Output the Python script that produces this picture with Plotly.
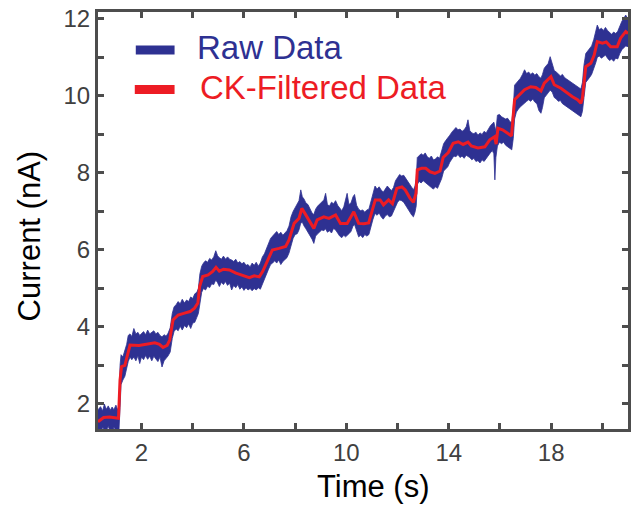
import plotly.graph_objects as go

# Filtered current trace (time in s, current in nA)
filt_t = [0.30, 0.52, 0.75, 0.95, 1.10, 1.16, 1.22, 1.35, 1.48, 1.55, 1.90, 2.20, 2.52, 2.70,
          2.84, 3.00, 3.10, 3.23, 3.43, 3.68, 3.90, 4.07, 4.20, 4.27, 4.39, 4.60, 4.78, 4.91,
          5.04, 5.20, 5.43, 5.69, 6.01, 6.21, 6.40, 6.60, 6.73, 6.92, 7.11, 7.37, 7.63, 7.76,
          7.96, 8.15, 8.26, 8.38, 8.54, 8.73, 8.86, 9.12, 9.32, 9.58, 9.77, 10.03, 10.29, 10.48,
          10.68, 10.87, 11.00, 11.13, 11.32, 11.45, 11.65, 11.80, 11.97, 12.17, 12.30, 12.49,
          12.62, 12.72, 12.77, 12.94, 13.10, 13.27, 13.46, 13.66, 13.78, 13.98, 14.17, 14.37,
          14.56, 14.75, 14.88, 15.14, 15.41, 15.60, 15.79, 15.85, 15.92, 16.10, 16.30, 16.45,
          16.57, 16.70, 16.96, 17.20, 17.40, 17.60, 17.73, 17.99, 18.12, 18.38, 18.64, 18.83,
          19.03, 19.16, 19.22, 19.35, 19.55, 19.68, 19.80, 20.00, 20.15, 20.32, 20.58, 20.71,
          20.91, 21.00]
filt_y = [1.54, 1.65, 1.66, 1.64, 1.63, 2.62, 2.97, 3.00, 3.40, 3.53, 3.52, 3.55, 3.59, 3.55,
          3.47, 3.52, 3.66, 4.18, 4.31, 4.36, 4.40, 4.49, 4.62, 5.05, 5.31, 5.35, 5.44, 5.55,
          5.45, 5.50, 5.48, 5.40, 5.33, 5.28, 5.33, 5.30, 5.44, 5.74, 6.00, 6.04, 6.09, 6.26,
          6.69, 6.82, 7.08, 6.95, 6.78, 6.56, 6.78, 6.86, 6.82, 6.91, 6.69, 6.69, 6.99, 6.69,
          6.68, 6.70, 7.00, 7.30, 7.30, 7.17, 7.30, 7.20, 7.60, 7.64, 7.56, 7.34,
          7.24, 7.47, 8.08, 8.12, 8.12, 8.03, 7.99, 8.05, 8.40, 8.53, 8.77, 8.81,
          8.74, 8.80, 8.70, 8.65, 8.68, 8.86, 8.94, 8.75, 9.16, 9.12, 9.03, 8.96,
          9.90, 9.98, 10.16, 10.24, 10.22, 10.13, 10.33, 10.50, 10.29, 10.20, 10.07, 9.98,
          9.90, 9.81, 9.95, 10.76, 10.85, 11.06, 11.41, 11.37, 11.40, 11.28, 11.28, 11.50,
          11.67, 11.62]

# Raw current record: lower and upper extent of the noise at each time
raw_t = [0.30, 0.40, 0.48, 0.55, 0.62, 0.70, 0.78, 0.85, 0.92, 1.00,
         1.06, 1.12, 1.16, 1.20, 1.27, 1.35, 1.42, 1.48, 1.55, 1.62,
         1.70, 1.78, 1.86, 1.93, 2.00, 2.08, 2.16, 2.24, 2.32, 2.40,
         2.48, 2.56, 2.64, 2.72, 2.80, 2.88, 2.96, 3.04, 3.12, 3.20,
         3.27, 3.35, 3.43, 3.51, 3.59, 3.68, 3.76, 3.84, 3.92, 4.00,
         4.08, 4.16, 4.22, 4.28, 4.35, 4.42, 4.50, 4.58, 4.66, 4.74,
         4.82, 4.90, 4.97, 5.04, 5.12, 5.20, 5.28, 5.36, 5.44, 5.52,
         5.60, 5.68, 5.76, 5.84, 5.92, 6.00, 6.08, 6.16, 6.24, 6.32,
         6.40, 6.48, 6.56, 6.64, 6.72, 6.80, 6.88, 6.96, 7.04, 7.12,
         7.20, 7.28, 7.36, 7.44, 7.52, 7.60, 7.68, 7.76, 7.84, 7.92,
         8.00, 8.08, 8.15, 8.22, 8.28, 8.35, 8.42, 8.50, 8.58, 8.66,
         8.73, 8.80, 8.88, 8.96, 9.04, 9.12, 9.19, 9.26, 9.34, 9.42,
         9.50, 9.58, 9.66, 9.74, 9.82, 9.90, 9.97, 10.03, 10.10, 10.18,
         10.26, 10.32, 10.40, 10.48, 10.56, 10.64, 10.72, 10.80, 10.88, 10.96,
         11.04, 11.12, 11.20, 11.28, 11.36, 11.44, 11.52, 11.60, 11.68, 11.76,
         11.84, 11.92, 12.00, 12.08, 12.16, 12.24, 12.32, 12.40, 12.48, 12.56,
         12.62, 12.68, 12.73, 12.77, 12.84, 12.92, 13.00, 13.08, 13.16, 13.24,
         13.32, 13.40, 13.48, 13.56, 13.64, 13.72, 13.80, 13.88, 13.96, 14.04,
         14.12, 14.20, 14.28, 14.36, 14.44, 14.52, 14.60, 14.68, 14.75, 14.82,
         14.90, 14.98, 15.06, 15.14, 15.22, 15.30, 15.38, 15.46, 15.54, 15.62,
         15.70, 15.76, 15.80, 15.84, 15.90, 15.98, 16.06, 16.14, 16.22, 16.30,
         16.38, 16.46, 16.52, 16.57, 16.64, 16.72, 16.80, 16.88, 16.96, 17.04,
         17.12, 17.20, 17.28, 17.36, 17.44, 17.52, 17.60, 17.66, 17.73, 17.80,
         17.88, 17.96, 18.04, 18.12, 18.20, 18.28, 18.36, 18.44, 18.52, 18.60,
         18.68, 18.76, 18.84, 18.92, 19.00, 19.08, 19.16, 19.22, 19.28, 19.35,
         19.42, 19.50, 19.58, 19.66, 19.74, 19.80, 19.88, 19.96, 20.04, 20.12,
         20.20, 20.28, 20.36, 20.44, 20.52, 20.60, 20.68, 20.76, 20.84, 20.91,
         21.00]
raw_lo = [1.25, 1.20, 1.40, 1.33, 1.30, 1.42, 1.28, 1.20, 1.40, 1.32,
          1.25, 1.33, 1.90, 2.50, 2.62, 2.72, 2.95, 3.10, 3.22, 3.15,
          3.22, 3.12, 3.25, 3.05, 3.22, 3.15, 3.26, 3.16, 3.24, 3.12,
          3.24, 3.18, 3.10, 3.22, 2.96, 3.12, 3.18, 3.25, 3.35, 3.70,
          3.88, 3.95, 3.90, 4.02, 3.92, 4.04, 3.98, 4.08, 3.96, 4.10,
          4.12, 4.25, 4.35, 4.65, 4.90, 5.00, 4.96, 5.06, 5.02, 5.12,
          5.10, 5.22, 5.15, 5.05, 5.16, 5.10, 5.18, 5.08, 5.14, 4.96,
          5.08, 5.02, 5.10, 4.98, 5.04, 4.95, 5.02, 4.96, 5.00, 4.94,
          5.00, 4.96, 5.02, 4.98, 5.10, 5.22, 5.38, 5.50, 5.62, 5.66,
          5.72, 5.66, 5.74, 5.62, 5.70, 5.76, 5.80, 5.92, 6.10, 6.30,
          6.40, 6.42, 6.52, 6.70, 6.72, 6.62, 6.55, 6.45, 6.38, 6.28,
          6.17, 6.36, 6.42, 6.48, 6.52, 6.50, 6.55, 6.46, 6.50, 6.44,
          6.56, 6.52, 6.44, 6.36, 6.32, 6.38, 6.34, 6.38, 6.42, 6.48,
          6.62, 6.66, 6.48, 6.34, 6.38, 6.32, 6.40, 6.36, 6.40, 6.58,
          6.80, 6.95, 6.90, 6.96, 6.86, 6.80, 6.88, 6.92, 6.86, 6.88,
          6.96, 7.12, 7.24, 7.30, 7.28, 7.24, 7.16, 7.06, 6.98, 6.90,
          6.86, 6.98, 7.15, 7.70, 7.78, 7.74, 7.80, 7.76, 7.70, 7.66,
          7.62, 7.58, 7.64, 7.60, 7.70, 7.85, 8.05, 8.10, 8.16, 8.28,
          8.36, 8.44, 8.42, 8.48, 8.40, 8.44, 8.38, 8.46, 8.44, 8.40,
          8.34, 8.38, 8.30, 8.32, 8.26, 8.34, 8.30, 8.36, 8.44, 8.52,
          8.58, 8.50, 7.82, 8.40, 8.70, 8.80, 8.76, 8.80, 8.72, 8.68,
          8.64, 8.60, 8.90, 9.40, 9.58, 9.66, 9.72, 9.78, 9.82, 9.86,
          9.90, 9.86, 9.92, 9.84, 9.80, 9.62, 9.55, 9.70, 9.95, 10.00,
          10.08, 10.15, 10.10, 9.96, 9.92, 9.86, 9.88, 9.80, 9.76, 9.72,
          9.68, 9.64, 9.60, 9.58, 9.54, 9.50, 9.46, 9.60, 9.95, 10.35,
          10.42, 10.48, 10.56, 10.68, 10.86, 11.00, 11.04, 10.98, 11.02, 11.06,
          10.98, 10.92, 10.96, 10.90, 10.98, 10.96, 11.10, 11.20, 11.26, 11.30,
          11.28]
raw_hi = [1.85, 1.93, 1.82, 2.00, 1.86, 1.95, 1.84, 1.92, 1.85, 1.97,
          1.86, 1.90, 3.00, 3.28, 3.22, 3.38, 3.55, 3.78, 3.82, 3.75,
          3.96, 3.82, 3.86, 3.78, 3.84, 3.88, 3.80, 3.92, 3.82, 3.86,
          3.90, 3.82, 3.86, 3.78, 3.74, 3.80, 3.76, 3.84, 3.98, 4.35,
          4.52, 4.58, 4.66, 4.60, 4.72, 4.62, 4.70, 4.66, 4.78, 4.74,
          4.86, 4.90, 5.00, 5.38, 5.58, 5.66, 5.72, 5.68, 5.78, 5.74,
          5.82, 5.98, 5.85, 5.80, 5.76, 5.84, 5.76, 5.82, 5.76, 5.74,
          5.70, 5.76, 5.66, 5.70, 5.64, 5.68, 5.60, 5.62, 5.56, 5.66,
          5.60, 5.68, 5.58, 5.66, 5.82, 5.90, 6.02, 6.15, 6.30, 6.36,
          6.42, 6.48, 6.40, 6.46, 6.38, 6.44, 6.50, 6.62, 6.86, 7.00,
          7.10, 7.18, 7.28, 7.56, 7.38, 7.32, 7.22, 7.18, 7.08, 6.96,
          6.92, 7.06, 7.14, 7.20, 7.26, 7.30, 7.47, 7.18, 7.14, 7.24,
          7.20, 7.28, 7.16, 7.08, 7.02, 7.12, 7.30, 7.47, 7.18, 7.22,
          7.38, 7.44, 7.16, 7.06, 7.02, 7.04, 6.98, 7.04, 7.06, 7.26,
          7.48, 7.66, 7.58, 7.64, 7.56, 7.50, 7.58, 7.66, 7.60, 7.54,
          7.62, 7.80, 7.88, 7.96, 7.92, 7.94, 7.86, 7.78, 7.70, 7.60,
          7.56, 7.66, 7.85, 8.40, 8.44, 8.50, 8.46, 8.52, 8.42, 8.38,
          8.44, 8.34, 8.36, 8.42, 8.38, 8.55, 8.76, 8.84, 8.90, 8.98,
          9.06, 9.12, 9.18, 9.12, 9.14, 9.08, 9.12, 9.20, 9.38, 9.10,
          9.04, 9.02, 9.06, 8.98, 9.04, 9.00, 9.08, 9.04, 9.14, 9.22,
          9.28, 9.32, 9.20, 9.08, 9.50, 9.52, 9.46, 9.44, 9.40, 9.42,
          9.34, 9.30, 9.70, 10.28, 10.34, 10.38, 10.46, 10.56, 10.68, 10.58,
          10.62, 10.56, 10.60, 10.54, 10.58, 10.50, 10.46, 10.56, 10.72, 10.78,
          10.84, 11.02, 10.86, 10.66, 10.62, 10.58, 10.52, 10.56, 10.48, 10.44,
          10.40, 10.36, 10.34, 10.28, 10.26, 10.22, 10.18, 10.35, 10.80, 11.10,
          11.16, 11.22, 11.30, 11.46, 11.66, 11.84, 11.72, 11.76, 11.70, 11.78,
          11.70, 11.64, 11.60, 11.66, 11.62, 11.68, 11.82, 11.94, 12.02, 12.10,
          12.00]

x_range = [0.30, 21.0]
y_range = [1.35, 12.18]

BLUE = "#2E3192"
RED = "#ED1C24"
AXIS = "#4d4d4d"
FONT = "Liberation Sans, Arial, sans-serif"

W, H = 631, 505
ML, MR, MT, MB = 98, 0, 12, 76


def px(x):
    return (x - ML) / (W - ML - MR)


def py(y):
    return (H - MB - y) / (H - MT - MB)


fig = go.Figure()

# Raw record drawn as the filled band between its lower and upper extent
fig.add_trace(go.Scatter(
    x=raw_t + raw_t[::-1],
    y=raw_hi + raw_lo[::-1],
    fill="toself",
    fillcolor=BLUE,
    mode="lines",
    line=dict(color=BLUE, width=0.8),
    name="Raw Data",
    hoverinfo="skip",
))

fig.add_trace(go.Scatter(
    x=filt_t,
    y=filt_y,
    mode="lines",
    line=dict(color=RED, width=3),
    name="CK-Filtered Data",
))

axis_common = dict(
    showline=True, linecolor=AXIS, linewidth=3, mirror="ticks",
    ticks="inside", ticklen=6, tickwidth=2.5, tickcolor=AXIS,
    showgrid=False, zeroline=False,
    tickfont=dict(family=FONT, size=24, color="#404040"),
)

fig.update_xaxes(range=x_range, tick0=2, dtick=4,
                 minor=dict(dtick=2, tick0=0, ticks="inside", ticklen=6,
                            tickwidth=2.5, tickcolor=AXIS),
                 **axis_common)
fig.update_yaxes(range=y_range, tick0=2, dtick=2,
                 minor=dict(dtick=1, tick0=0, ticks="inside", ticklen=6,
                            tickwidth=2.5, tickcolor=AXIS),
                 **axis_common)

# Legend keys
shapes = [
    dict(type="rect", xref="paper", yref="paper",
         x0=px(136), x1=px(175), y0=py(54.5), y1=py(45.5),
         fillcolor=BLUE, line=dict(width=0)),
    dict(type="rect", xref="paper", yref="paper",
         x0=px(135), x1=px(175), y0=py(94), y1=py(85),
         fillcolor=RED, line=dict(width=0)),
]

annotations = [
    dict(text="Raw Data", x=px(196), y=py(47), xref="paper", yref="paper",
         xanchor="left", yanchor="middle", showarrow=False,
         font=dict(family=FONT, size=33, color=BLUE)),
    dict(text="CK-Filtered Data", x=px(199), y=py(87), xref="paper", yref="paper",
         xanchor="left", yanchor="middle", showarrow=False,
         font=dict(family=FONT, size=33, color=RED)),
    dict(text="Time (s)", x=px(375), y=py(486), xref="paper", yref="paper",
         xanchor="center", yanchor="middle", showarrow=False,
         font=dict(family=FONT, size=31, color="black")),
    dict(text="Current (nA)", x=px(29), y=py(236), xref="paper", yref="paper",
         xanchor="center", yanchor="middle", showarrow=False, textangle=-90,
         font=dict(family=FONT, size=31, color="black")),
]

fig.update_layout(
    width=W, height=H,
    margin=dict(l=ML, r=MR, t=MT, b=MB, pad=0),
    plot_bgcolor="white", paper_bgcolor="white",
    showlegend=False,
    shapes=shapes,
    annotations=annotations,
)

fig.write_html("out.html")
